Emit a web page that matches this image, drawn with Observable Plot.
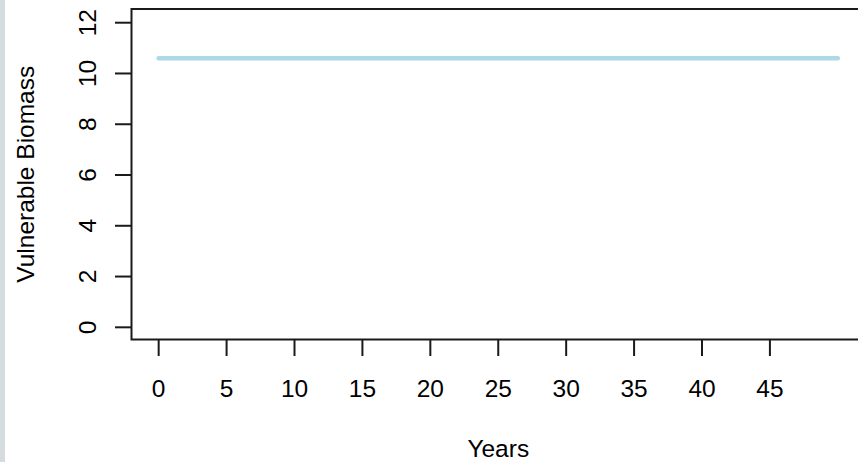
<!DOCTYPE html>
<html>
<head>
<meta charset="utf-8">
<script src="https://cdn.jsdelivr.net/npm/d3@7"></script>
<script src="https://cdn.jsdelivr.net/npm/@observablehq/plot@0.6"></script>
<style>
  html, body { margin: 0; padding: 0; background: #ffffff; }
  #wrap { position: relative; width: 858px; height: 462px; overflow: hidden; background: #ffffff; }
  #strip { position: absolute; left: 0; top: 0; width: 5px; height: 462px; background: #d5dce0; }
  #chart { position: absolute; left: 0; top: 0; }
</style>
</head>
<body>
<div id="wrap"><div id="chart"></div><div id="strip"></div></div>
<script>
// Data
const years = [0,1,2,3,4,5,6,7,8,9,10,11,12,13,14,15,16,17,18,19,20,21,22,23,24,25,26,27,28,29,30,31,32,33,34,35,36,37,38,39,40,41,42,43,44,45,46,47,48,49,50];
const biomass = [10.6,10.6,10.6,10.6,10.6,10.6,10.6,10.6,10.6,10.6,10.6,10.6,10.6,10.6,10.6,10.6,10.6,10.6,10.6,10.6,10.6,10.6,10.6,10.6,10.6,10.6,10.6,10.6,10.6,10.6,10.6,10.6,10.6,10.6,10.6,10.6,10.6,10.6,10.6,10.6,10.6,10.6,10.6,10.6,10.6,10.6,10.6,10.6,10.6,10.6,10.6];
const xTicks = [0,5,10,15,20,25,30,35,40,45];
const yTicks = [0,2,4,6,8,10,12];
const xTitle = "Years";
const yTitle = "Vulnerable Biomass";
const xDomain = [-2, 52];
const yDomain = [-0.48, 12.54];

const series = years.map((t, i) => ({year: t, value: biomass[i]}));
const ink = "#1a1a1a";
const fs = 24.5;

const chart = Plot.plot({
  width: 858,
  height: 462,
  marginLeft: 131,
  marginRight: -6.5,
  marginTop: 8.5,
  marginBottom: 123,
  style: {fontFamily: "'Liberation Sans', Arial, sans-serif", fontSize: fs + "px", color: "#000", background: "transparent"},
  x: {domain: xDomain},
  y: {domain: yDomain},
  marks: [
    Plot.frame({stroke: ink, strokeWidth: 2}),
    Plot.lineY(series, {x: "year", y: "value", stroke: "#add8e6", strokeWidth: 4.5, strokeLinecap: "round"}),
    Plot.axisX(xTicks, {anchor: "bottom", tickSize: 17, tickPadding: 23.5, fontSize: fs, stroke: ink, strokeWidth: 2, label: null, fill: "#000"}),
    Plot.axisY(yTicks, {anchor: "left", tickSize: 16, tickFormat: () => "", stroke: ink, strokeWidth: 2, label: null}),
    Plot.text(yTicks, {y: d => d, frameAnchor: "left", dx: -36, rotate: -90, textAnchor: "middle", lineAnchor: "bottom", fontSize: fs, fill: "#000", text: d => String(d)}),
    Plot.text([yTitle], {frameAnchor: "left", dx: -98, rotate: -90, textAnchor: "middle", lineAnchor: "bottom", fontSize: fs, fill: "#000", text: d => d}),
    Plot.text([xTitle], {frameAnchor: "bottom", dy: 117.5, textAnchor: "middle", lineAnchor: "bottom", fontSize: fs, fill: "#000", text: d => d})
  ]
});
document.getElementById("chart").appendChild(chart);
</script>
</body>
</html>
